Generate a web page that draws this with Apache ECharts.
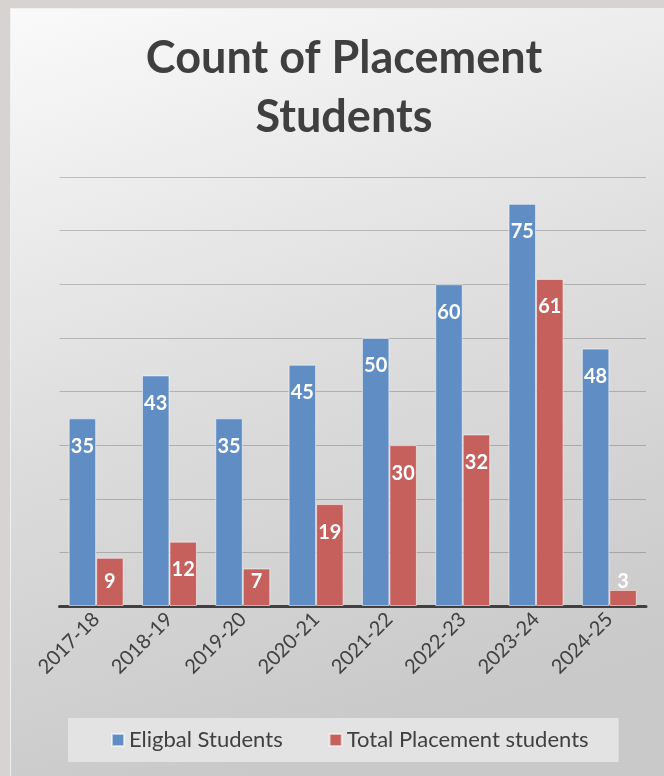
<!DOCTYPE html>
<html>
<head>
<meta charset="utf-8">
<script src="https://cdn.jsdelivr.net/npm/echarts@6/dist/echarts.min.js"></script>
<style>
    html, body { margin: 0; padding: 0; }
    body {
        width: 664px; height: 776px; position: relative; overflow: hidden;
        background: #d6d3d0;
    }
    #main {
        position: absolute; left: 10px; top: 8px;
        width: 654px; height: 768px;
        box-sizing: border-box;
        border-left: 1px solid #efefef; border-top: 1px solid #efefef;
    }
</style>
</head>
<body>
<div id="main"></div>
<script>
// 数据
var categories = ['2017-18', '2018-19', '2019-20', '2020-21', '2021-22', '2022-23', '2023-24', '2024-25']
var eligible = [35, 43, 35, 45, 50, 60, 75, 48]
var placed = [9, 12, 7, 19, 30, 32, 61, 3]
var seriesNames = ['Eligbal Students', 'Total Placement students']

var font = 'Lato, "Open Sans", sans-serif'

// short bars get the label pushed to the bottom, like excel does
function withLabels (arr) {
    return arr.map(function (v) {
        if (v < 10) {
            return { value: v, label: { position: 'insideBottom', distance: 14 } }
        }
        return v
    })
}

var barLabel = {
    show: true,
    position: 'insideTop',
    distance: 18,
    color: '#ffffff',
    fontFamily: font,
    fontWeight: 'bold',
    fontSize: 20
}

var option = {
    backgroundColor: {
        type: 'linear', x: 0, y: 0, x2: 0.35, y2: 1,
        colorStops: [
            { offset: 0, color: '#fafafa' },
            { offset: 0.55, color: '#dcdcdc' },
            { offset: 1, color: '#c9c9c9' }
        ]
    },
    title: {
        text: 'Count of Placement\nStudents',
        left: 328,
        top: 15,
        textAlign: 'center',
        textStyle: {
            fontFamily: font,
            fontWeight: 'bold',
            fontSize: 45,
            lineHeight: 59,
            color: '#3f3f3f'
        }
    },
    legend: {
        data: seriesNames,
        left: 57,
        top: 709,
        itemWidth: 12,
        itemHeight: 12,
        itemGap: 46,
        icon: 'rect',
        padding: [11, 30, 11, 43],
        backgroundColor: '#e3e3e3',
        textStyle: {
            fontFamily: font,
            fontSize: 22,
            color: '#404040'
        }
    },
    grid: {
        left: 48.5,
        right: 18,
        top: 168,
        bottom: 170
    },
    xAxis: {
        type: 'category',
        data: categories,
        axisLine: { lineStyle: { color: '#404040', width: 3 } },
        axisTick: { show: false },
        axisLabel: {
            rotate: 45,
            margin: 10,
            fontFamily: font,
            fontSize: 20,
            color: '#404040'
        }
    },
    yAxis: {
        type: 'value',
        min: 0,
        max: 80,
        interval: 10,
        axisLabel: { show: false },
        axisLine: { show: false },
        axisTick: { show: false },
        splitLine: { lineStyle: { color: 'rgba(0,0,0,0.2)', width: 1 } }
    },
    series: [
        {
            name: seriesNames[0],
            type: 'bar',
            barGap: '0%',
            barCategoryGap: '25%',
            itemStyle: { color: '#5f8dc4', borderColor: 'rgba(255,255,255,0.55)', borderWidth: 1 },
            label: barLabel,
            data: withLabels(eligible)
        },
        {
            name: seriesNames[1],
            type: 'bar',
            barGap: '0%',
            barCategoryGap: '25%',
            itemStyle: { color: '#c6605d', borderColor: 'rgba(255,255,255,0.55)', borderWidth: 1 },
            label: barLabel,
            data: withLabels(placed)
        }
    ]
}

var myChart = echarts.init(document.getElementById('main'))
myChart.setOption(option)
</script>
</body>
</html>
